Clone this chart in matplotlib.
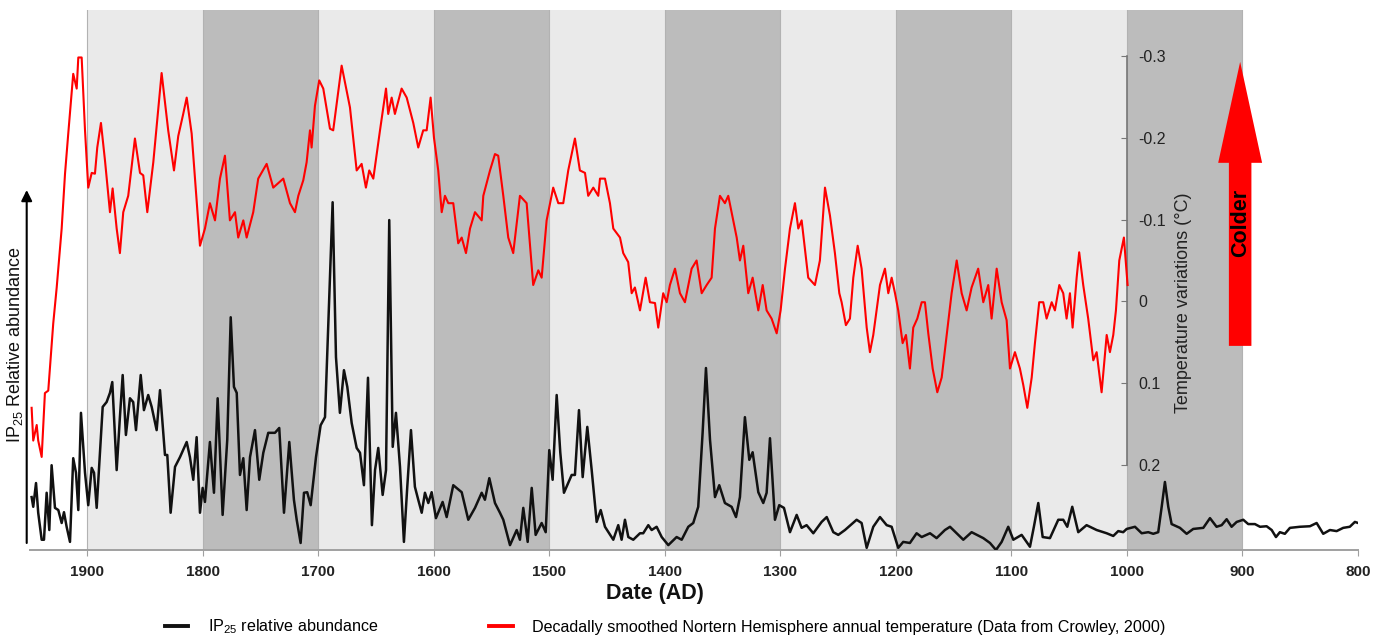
import matplotlib.pyplot as plt
from matplotlib.lines import Line2D
from matplotlib.patches import FancyArrow

plt.rcParams['font.family'] = ['Liberation Sans', 'DejaVu Sans']
plt.rcParams['mathtext.default'] = 'regular'
plt.rcParams['axes.unicode_minus'] = False

# decadally smoothed NH temperature anomaly (Crowley 2000), deg C
temp_year = [1947.9, 1946.5, 1943.5, 1942.2, 1939.2, 1936.4, 1933.5, 1929.2, 1926.2, 1921.9,
             1919.0, 1916.2, 1911.9, 1908.9, 1907.5, 1904.6, 1901.7, 1898.9, 1895.9, 1893.1,
             1891.1, 1887.9, 1884.4, 1880.1, 1877.8, 1874.3, 1871.5, 1868.6, 1864.3, 1858.5,
             1854.1, 1851.3, 1847.8, 1842.6, 1835.4, 1829.7, 1824.7, 1821.0, 1816.7, 1813.7,
             1809.4, 1805.1, 1802.2, 1797.9, 1793.6, 1789.2, 1784.9, 1780.6, 1776.3, 1771.9,
             1769.1, 1764.7, 1761.8, 1756.1, 1751.8, 1744.5, 1738.8, 1730.1, 1724.3, 1720.0,
             1717.1, 1712.8, 1709.9, 1707.0, 1705.6, 1702.7, 1699.0, 1695.5, 1689.7, 1686.9,
             1679.6, 1672.4, 1666.6, 1662.3, 1658.6, 1655.7, 1652.2, 1646.4, 1641.2, 1639.3,
             1636.3, 1633.5, 1627.7, 1623.3, 1617.6, 1613.3, 1609.0, 1606.0, 1602.6, 1599.7,
             1596.0, 1593.0, 1590.2, 1587.3, 1583.0, 1578.7, 1575.7, 1572.0, 1568.5, 1564.2,
             1558.4, 1557.0, 1551.2, 1546.9, 1544.1, 1539.7, 1535.4, 1531.1, 1525.3, 1519.5,
             1513.8, 1509.4, 1506.5, 1502.2, 1496.5, 1492.1, 1487.8, 1483.5, 1477.7, 1473.4,
             1469.0, 1466.2, 1461.8, 1457.5, 1456.0, 1451.7, 1447.4, 1444.5, 1438.7, 1435.9,
             1431.6, 1428.6, 1425.8, 1421.4, 1416.5, 1412.8, 1408.4, 1405.6, 1401.3, 1398.3,
             1395.5, 1391.1, 1386.8, 1382.5, 1376.7, 1372.4, 1368.0, 1363.7, 1359.4, 1356.5,
             1352.2, 1347.9, 1345.0, 1342.1, 1337.7, 1334.9, 1332.0, 1327.7, 1323.9, 1319.0,
             1315.2, 1311.8, 1307.5, 1303.1, 1299.7, 1295.9, 1291.6, 1287.3, 1284.4, 1281.5,
             1275.8, 1270.0, 1265.7, 1261.3, 1257.0, 1252.7, 1248.9, 1246.9, 1243.2, 1239.7,
             1236.8, 1233.0, 1229.6, 1225.2, 1222.4, 1219.5, 1216.6, 1213.7, 1209.4, 1206.5,
             1203.6, 1200.7, 1197.9, 1194.1, 1191.2, 1187.8, 1184.9, 1181.4, 1177.6, 1174.8,
             1171.9, 1168.1, 1164.1, 1160.3, 1156.0, 1151.7, 1147.3, 1143.0, 1138.7, 1134.4,
             1128.7, 1124.3, 1120.0, 1117.1, 1112.7, 1108.4, 1104.1, 1101.2, 1096.9, 1092.6,
             1089.7, 1086.2, 1082.4, 1079.6, 1075.9, 1072.4, 1069.5, 1065.1, 1062.3, 1058.5,
             1055.1, 1052.2, 1049.3, 1047.0, 1043.5, 1041.3, 1037.8, 1033.5, 1029.1, 1026.2,
             1021.9, 1017.5, 1014.7, 1011.8, 1009.5, 1006.6, 1002.6, 999.4]
temp_val = [0.130, 0.170, 0.151, 0.170, 0.190, 0.112, 0.109, 0.027, -0.017, -0.089,
            -0.156, -0.205, -0.278, -0.260, -0.298, -0.298, -0.209, -0.139, -0.157, -0.156,
            -0.188, -0.218, -0.172, -0.109, -0.138, -0.089, -0.059, -0.109, -0.129, -0.199,
            -0.157, -0.154, -0.109, -0.170, -0.279, -0.209, -0.160, -0.202, -0.229, -0.249,
            -0.205, -0.123, -0.068, -0.089, -0.120, -0.099, -0.150, -0.178, -0.099, -0.109,
            -0.078, -0.099, -0.078, -0.109, -0.150, -0.168, -0.139, -0.150, -0.120, -0.109,
            -0.129, -0.148, -0.170, -0.209, -0.188, -0.239, -0.270, -0.260, -0.211, -0.209,
            -0.288, -0.237, -0.160, -0.168, -0.139, -0.160, -0.150, -0.209, -0.260, -0.229,
            -0.249, -0.229, -0.260, -0.249, -0.218, -0.188, -0.209, -0.209, -0.249, -0.200,
            -0.160, -0.109, -0.129, -0.120, -0.120, -0.071, -0.078, -0.059, -0.089, -0.109,
            -0.099, -0.129, -0.160, -0.180, -0.178, -0.129, -0.078, -0.059, -0.129, -0.120,
            -0.020, -0.038, -0.029, -0.099, -0.139, -0.120, -0.120, -0.160, -0.199, -0.160,
            -0.157, -0.129, -0.139, -0.129, -0.150, -0.150, -0.120, -0.089, -0.078, -0.059,
            -0.048, -0.010, -0.017, 0.011, -0.029, 0.001, 0.002, 0.032, -0.010, 0.001,
            -0.020, -0.040, -0.010, 0.001, -0.040, -0.050, -0.010, -0.020, -0.029, -0.089,
            -0.129, -0.120, -0.129, -0.109, -0.078, -0.050, -0.068, -0.010, -0.029, 0.011,
            -0.020, 0.011, 0.021, 0.039, 0.011, -0.040, -0.089, -0.120, -0.089, -0.099,
            -0.029, -0.020, -0.050, -0.139, -0.105, -0.059, -0.010, 0.001, 0.029, 0.021,
            -0.029, -0.068, -0.040, 0.032, 0.062, 0.041, 0.011, -0.020, -0.040, -0.010,
            -0.029, -0.010, 0.011, 0.051, 0.041, 0.082, 0.032, 0.021, 0.001, 0.001,
            0.039, 0.082, 0.111, 0.093, 0.041, -0.010, -0.050, -0.010, 0.011, -0.017,
            -0.040, 0.001, -0.020, 0.021, -0.040, 0.001, 0.023, 0.082, 0.062, 0.082,
            0.102, 0.130, 0.093, 0.051, 0.001, 0.001, 0.021, 0.001, 0.011, -0.020,
            -0.010, 0.021, -0.010, 0.032, -0.029, -0.060, -0.020, 0.021, 0.072, 0.062,
            0.111, 0.041, 0.062, 0.041, 0.011, -0.050, -0.078, -0.020]

# IP25 relative abundance (arbitrary units, 0-100)
ip25_year = [1947.9, 1946.5, 1944.1, 1942.2, 1939.2, 1937.2, 1934.9, 1932.6, 1930.6, 1927.7,
             1924.8, 1921.9, 1919.9, 1917.6, 1914.7, 1911.9, 1909.5, 1907.5, 1905.2, 1901.7,
             1898.9, 1895.9, 1893.9, 1891.6, 1886.4, 1883.0, 1880.1, 1878.1, 1874.3, 1871.5,
             1869.1, 1866.3, 1862.8, 1860.0, 1857.6, 1853.5, 1850.7, 1847.0, 1844.0, 1839.7,
             1836.8, 1832.5, 1830.5, 1827.6, 1823.8, 1819.5, 1813.7, 1810.9, 1808.0, 1805.1,
             1802.2, 1799.9, 1797.9, 1793.6, 1790.1, 1786.9, 1782.6, 1778.6, 1775.6, 1772.8,
             1770.4, 1767.6, 1764.7, 1761.8, 1758.9, 1754.6, 1750.9, 1747.4, 1743.1, 1737.3,
             1733.6, 1729.5, 1724.9, 1720.9, 1718.5, 1715.1, 1712.2, 1709.4, 1706.4, 1701.8,
             1697.8, 1694.0, 1687.4, 1684.5, 1681.1, 1677.6, 1674.7, 1670.9, 1666.6, 1663.7,
             1660.3, 1656.8, 1653.4, 1650.7, 1647.9, 1644.1, 1641.2, 1638.4, 1635.4, 1632.6,
             1629.1, 1625.7, 1622.8, 1619.6, 1616.2, 1613.3, 1610.3, 1607.5, 1604.6, 1601.7,
             1598.0, 1592.2, 1588.7, 1583.0, 1575.7, 1570.0, 1564.2, 1558.4, 1555.6, 1551.8,
             1546.9, 1542.6, 1539.7, 1533.9, 1528.1, 1525.3, 1522.4, 1518.6, 1515.1, 1511.7,
             1506.5, 1503.0, 1499.9, 1497.0, 1493.5, 1490.4, 1487.2, 1480.5, 1477.7, 1474.2,
             1471.0, 1467.0, 1463.2, 1458.9, 1455.4, 1451.7, 1444.5, 1440.2, 1437.3, 1434.4,
             1431.5, 1427.2, 1421.4, 1418.6, 1414.2, 1411.3, 1407.0, 1402.6, 1396.9, 1389.7,
             1385.3, 1379.6, 1375.3, 1371.0, 1367.2, 1364.3, 1360.8, 1356.5, 1352.8, 1347.9,
             1342.1, 1338.3, 1334.9, 1330.6, 1326.8, 1323.9, 1319.0, 1314.7, 1311.8, 1308.9,
             1304.6, 1300.9, 1296.8, 1291.6, 1285.8, 1281.5, 1277.2, 1271.4, 1264.2, 1259.8,
             1254.1, 1249.8, 1244.0, 1233.9, 1229.6, 1225.2, 1219.5, 1213.7, 1207.9, 1203.6,
             1197.9, 1193.6, 1187.8, 1182.0, 1177.6, 1170.4, 1164.7, 1157.5, 1153.1, 1147.4,
             1141.6, 1134.4, 1124.3, 1118.5, 1113.3, 1108.4, 1102.7, 1098.3, 1091.1, 1083.9,
             1080.5, 1076.7, 1072.9, 1066.6, 1059.4, 1055.1, 1051.6, 1047.3, 1042.1, 1034.9,
             1026.2, 1017.5, 1011.8, 1007.5, 1003.2, 1000.2, 993.0, 987.2, 981.5, 977.2,
             972.9, 969.9, 967.1, 964.2, 961.3, 954.1, 948.3, 942.6, 933.9, 928.1,
             922.4, 918.0, 913.7, 909.4, 905.0, 899.3, 895.0, 889.2, 884.8, 879.1,
             874.7, 871.0, 867.6, 863.3, 858.9, 850.3, 841.6, 835.8, 830.1, 824.3,
             818.5, 812.8, 807.1, 802.7, 799.9]
ip25_val = [9.8, 8.0, 12.4, 6.9, 1.9, 1.9, 10.6, 3.7, 15.7, 7.8,
            7.4, 5.0, 7.0, 4.3, 1.5, 17.0, 14.3, 7.4, 25.4, 14.3,
            8.3, 15.2, 14.3, 7.8, 26.5, 27.4, 29.1, 31.1, 14.8, 24.6,
            32.4, 21.3, 28.1, 27.4, 22.2, 32.4, 25.9, 28.7, 26.5, 22.2,
            29.6, 17.6, 17.6, 6.9, 15.4, 17.2, 20.0, 17.2, 13.0, 20.9,
            6.9, 11.5, 8.9, 20.0, 10.6, 28.1, 6.5, 20.4, 43.1, 30.2,
            29.1, 13.9, 17.0, 7.4, 17.2, 22.2, 13.0, 18.0, 21.7, 21.7,
            22.6, 6.9, 20.0, 9.3, 5.6, 1.3, 10.6, 10.7, 8.3, 17.2,
            23.1, 24.6, 64.4, 35.7, 25.4, 33.3, 30.2, 23.5, 18.9, 18.0,
            12.0, 31.9, 4.6, 14.8, 18.9, 10.2, 14.8, 61.1, 19.1, 25.4,
            15.4, 1.5, 11.7, 22.2, 11.7, 9.3, 6.9, 10.6, 8.7, 10.7,
            5.9, 8.9, 6.1, 12.0, 10.7, 5.6, 7.8, 10.6, 9.3, 13.3,
            8.7, 6.9, 5.6, 0.9, 3.7, 1.9, 7.8, 1.5, 11.5, 2.8,
            5.0, 3.3, 18.5, 13.0, 28.7, 18.1, 10.6, 13.9, 13.9, 25.9,
            13.5, 22.8, 14.8, 5.2, 7.4, 4.3, 1.9, 4.6, 1.9, 5.6,
            2.4, 1.9, 3.1, 3.1, 4.6, 3.7, 4.3, 2.4, 0.9, 2.4,
            1.9, 4.3, 5.0, 8.0, 21.7, 33.7, 20.4, 9.8, 12.0, 8.7,
            8.0, 6.1, 9.8, 24.6, 16.7, 18.1, 10.7, 8.7, 10.6, 20.7,
            5.6, 8.3, 7.8, 3.3, 6.5, 4.1, 4.6, 3.1, 5.2, 6.1,
            3.3, 2.8, 3.7, 5.6, 5.0, 0.4, 4.3, 6.1, 4.6, 4.3,
            0.4, 1.5, 1.3, 3.1, 2.4, 3.1, 2.2, 3.7, 4.3, 3.1,
            1.9, 3.3, 2.2, 1.3, 0.0, 1.5, 4.3, 1.9, 2.8, 0.6,
            4.3, 8.7, 2.4, 2.2, 5.6, 5.6, 4.3, 8.0, 3.3, 4.6,
            3.7, 3.1, 2.6, 3.5, 3.3, 3.9, 4.3, 3.1, 3.3, 3.0,
            3.3, 8.0, 12.6, 8.0, 4.8, 4.1, 3.0, 3.9, 4.1, 5.9,
            4.3, 4.6, 5.7, 4.3, 5.2, 5.6, 4.8, 4.8, 4.3, 4.4,
            3.7, 2.4, 3.3, 3.0, 4.1, 4.3, 4.4, 5.0, 3.0, 3.7,
            3.5, 4.1, 4.3, 5.2, 5.0]

# century bands, alternating light / dark
band_starts = [1900, 1800, 1700, 1600, 1500, 1400, 1300, 1200, 1100, 1000]
band_colors = ['#eaeaea', '#bcbcbc'] * 5

date_ticks = [1900, 1800, 1700, 1600, 1500, 1400, 1300, 1200, 1100, 1000, 900, 800]
temp_ticks = [-0.3, -0.2, -0.1, 0, 0.1, 0.2]
temp_ticklabels = ['-0.3', '-0.2', '-0.1', '0', '0.1', '0.2']

fig = plt.figure(figsize=(13.86, 6.36), dpi=100)
ax = fig.add_axes([0.02165, 0.13522, 0.95815, 0.84906])

for start, col in zip(band_starts, band_colors):
    ax.axvspan(start, start - 100, color=col, lw=0, zorder=0)
for start in band_starts + [900]:
    ax.axvline(start, color='#b2b2b2', lw=0.8, zorder=0.5)

ax.plot(ip25_year, ip25_val, color='#111111', lw=1.8, solid_joinstyle='round', zorder=3)

ax.set_xlim(1949.3, 800)
ax.set_ylim(0, 100)
ax.set_yticks([])
for s in ['top', 'left', 'right']:
    ax.spines[s].set_visible(False)
ax.spines['bottom'].set_color('#a0a0a0')
ax.spines['bottom'].set_linewidth(1.4)
ax.set_xticks(date_ticks)
ax.tick_params(axis='x', direction='out', length=4, color='#a0a0a0', pad=7,
               labelsize=11, labelcolor='#222222')
for lbl in ax.get_xticklabels():
    lbl.set_fontweight('bold')

# colder arrow
ax.add_patch(FancyArrow(902, 37.8, 0, 52.6, width=19.5, head_width=38, head_length=18.7,
                        length_includes_head=True, color='#ff0000', lw=0, zorder=4))
ax.text(902, 60.5, 'Colder', rotation=90, ha='center', va='center',
        fontsize=15.5, fontweight='bold', color='black', zorder=5)

ax2 = ax.twinx()
ax2.plot(temp_year, temp_val, color='#ff0000', lw=1.5, zorder=3)
ax2.set_ylim(0.3037, -0.356)
for s in ['top', 'left', 'bottom']:
    ax2.spines[s].set_visible(False)
ax2.spines['right'].set_position(('data', 1000))
ax2.spines['right'].set_bounds(-0.3, 0.2)
ax2.spines['right'].set_color('#777777')
ax2.spines['right'].set_linewidth(1.2)
ax2.set_yticks(temp_ticks, temp_ticklabels)
ax2.tick_params(axis='y', direction='in', length=4, color='#777777', pad=8,
                labelsize=11.5, labelcolor='#222222')

fig.text(1183 / 1386, 1 - 303 / 636, 'Temperature variations (°C)', rotation=90,
         ha='center', va='center', fontsize=13, color='#222222')
fig.text(15 / 1386, 1 - 345 / 636, 'IP$_{25}$ Relative abundance', rotation=90,
         ha='center', va='center', fontsize=13, color='#111111')
fig.text(655 / 1386, 1 - 593 / 636, 'Date (AD)', ha='center', va='center',
         fontsize=15.5, fontweight='bold', color='#111111')

ax.annotate('', xy=(26.7 / 1386, 1 - 190 / 636), xytext=(26.7 / 1386, 1 - 543 / 636),
            xycoords='figure fraction', textcoords='figure fraction',
            arrowprops=dict(arrowstyle='-|>', color='black', lw=1.5,
                            mutation_scale=16, shrinkA=0, shrinkB=0))

handles = [Line2D([], [], color='#111111', lw=2.8),
           Line2D([], [], color='#ff0000', lw=2.8)]
labels = ['IP$_{25}$ relative abundance',
          'Decadally smoothed Nortern Hemisphere annual temperature (Data from Crowley, 2000)']
fig.legend(handles, labels, loc='center left', bbox_to_anchor=(165 / 1386, 1 - 627 / 636),
           ncol=2, frameon=False, fontsize=11.6, handlelength=1.45, handletextpad=1.2,
           columnspacing=6.9, borderpad=0, borderaxespad=0)

fig.savefig('out.png', dpi=100)
